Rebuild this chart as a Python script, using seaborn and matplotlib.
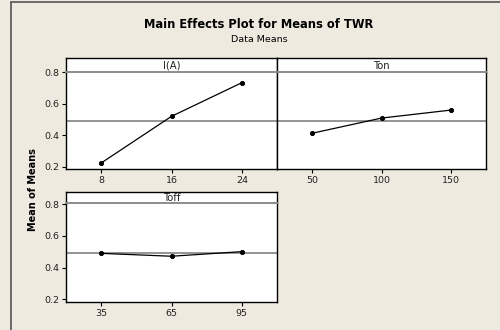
"""
Main effects plot for means of TWR (Minitab style) redrawn with seaborn.
"""

import matplotlib
matplotlib.use("Agg")
import matplotlib.pyplot as plt
from matplotlib.lines import Line2D
import seaborn as sns

# ── Data ───────────────────────────────────────────────────────────────────────
FACTORS     = ["I(A)", "Ton", "Toff"]
IA_LEVELS   = ["8", "16", "24"]
IA_MEANS    = [0.224, 0.521, 0.735]
TON_LEVELS  = ["50", "100", "150"]
TON_MEANS   = [0.413, 0.510, 0.561]
TOFF_LEVELS = ["35", "65", "95"]
TOFF_MEANS  = [0.490, 0.472, 0.501]
GRAND_MEAN  = 0.490
Y_TICKS     = [0.2, 0.4, 0.6, 0.8]

# ── Style ──────────────────────────────────────────────────────────────────────
sns.set_theme(style="white")
plt.rcParams["font.family"] = ["DejaVu Sans"]
BG = "#EEEAE0"
W, H = 500, 330


def px_rect(x0, y0, x1, y1):
    """pixel box (top-left origin) -> figure fraction rect"""
    return [x0 / W, (H - y1) / H, (x1 - x0) / W, (y1 - y0) / H]


fig = plt.figure(figsize=(5, 3.3), dpi=100, facecolor=BG)

# outer frame (left + top edges visible)
fig.add_artist(Line2D([11 / W, 11 / W], [0, 1 - 1.5 / H], color="#555555", lw=1.2))
fig.add_artist(Line2D([11 / W, 1], [1 - 1.5 / H, 1 - 1.5 / H], color="#555555", lw=1.2))

fig.text(259 / W, 1 - 24 / H, "Main Effects Plot for Means of TWR",
         ha="center", va="center", fontsize=8.3, fontweight="bold", color="black")
fig.text(259 / W, 1 - 39 / H, "Data Means", ha="center", va="center",
         fontsize=6.8, color="black")
fig.text(33 / W, 1 - 190 / H, "Mean of Means", ha="center", va="center",
         rotation=90, fontsize=7, fontweight="bold", color="black")

panels = [
    ("I(A)", IA_LEVELS, IA_MEANS, (66, 71.7, 277, 169), (66, 58, 277, 71.7), True),
    ("Ton", TON_LEVELS, TON_MEANS, (277, 71.7, 486, 169), (277, 58, 486, 71.7), False),
    ("Toff", TOFF_LEVELS, TOFF_MEANS, (66, 203.3, 277, 301.7), (66, 191.7, 277, 203.3), True),
]

for name, levels, means, box, sbox, show_y in panels:
    ax = fig.add_axes(px_rect(*box))
    ax.set_facecolor("white")
    ax.axhline(GRAND_MEAN, color="#8c8c8c", lw=1.3, zorder=1)
    sns.pointplot(x=levels, y=means, color="black", ax=ax, markers="o",
                  markersize=3, linewidth=0.9, zorder=3)
    ax.set_xlim(-0.5, 2.5)
    ax.set_ylim(0.186, 0.805)
    ax.set_yticks(Y_TICKS)
    ax.set_yticklabels([f"{t:.1f}" for t in Y_TICKS] if show_y else [])
    ax.tick_params(axis="both", which="both", direction="out", length=3,
                   width=0.8, color="black", labelsize=6.8, pad=2,
                   labelcolor="#222222")
    ax.tick_params(axis="x", bottom=True)
    ax.tick_params(axis="y", left=show_y)
    ax.set_xlabel("")
    ax.set_ylabel("")
    for side, sp in ax.spines.items():
        sp.set_visible(True)
        sp.set_color("black")
        sp.set_linewidth(1.0)
    ax.spines["top"].set_visible(False)

    # strip header
    sx = fig.add_axes(px_rect(*sbox))
    sx.set_facecolor("white")
    sx.set_xticks([])
    sx.set_yticks([])
    for side, sp in sx.spines.items():
        sp.set_visible(True)
        sp.set_color("black")
        sp.set_linewidth(1.0)
    sx.spines["bottom"].set_color("#8c8c8c")
    sx.spines["bottom"].set_linewidth(1.4)
    sx.text(0.5, 0.45, name, ha="center", va="center", fontsize=7.2,
            color="#222222", transform=sx.transAxes)

fig.savefig("out.png", dpi=100, facecolor=BG)
